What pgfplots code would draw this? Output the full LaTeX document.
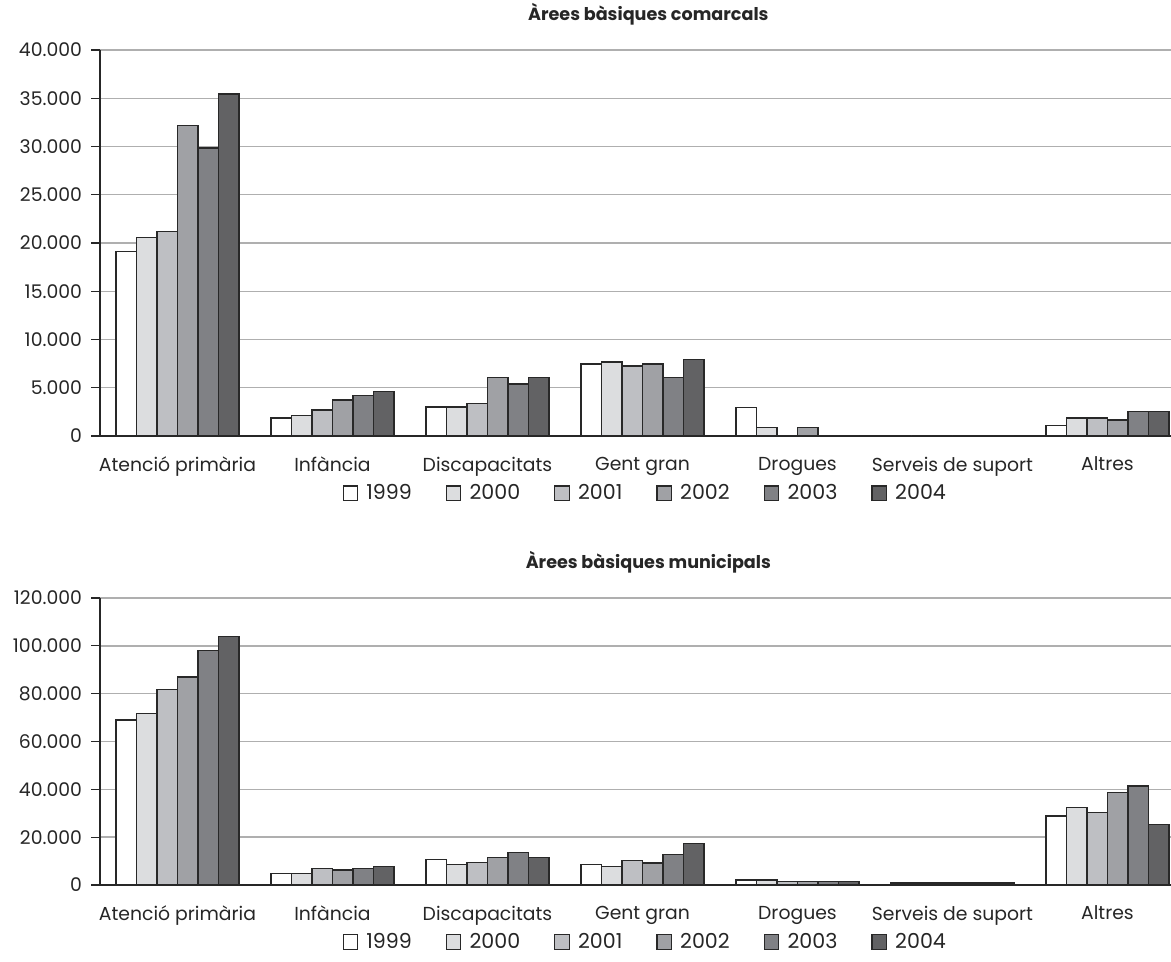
\documentclass[border=0pt]{standalone}
\usepackage{pgfplots}
\pgfplotsset{compat=1.18}
\usepackage{fontspec}
\setmainfont{Poppins}
\definecolor{c1999}{RGB}{255,255,255}
\definecolor{c2000}{RGB}{220,221,223}
\definecolor{c2001}{RGB}{190,191,195}
\definecolor{c2002}{RGB}{160,161,165}
\definecolor{c2003}{RGB}{128,129,133}
\definecolor{c2004}{RGB}{98,98,100}
\definecolor{gridc}{RGB}{175,175,175}
\definecolor{edgec}{RGB}{40,40,40}
\pgfplotsset{
  mybars/.style={
    scale only axis,
    width=535.5pt,
    xmin=-0.5, xmax=6.41,
    ybar=0pt,
    bar width=10.25pt,
    axis lines*=left,
    axis line style={draw=black!85, line width=0.6pt},
    ymajorgrids,
    major grid style={draw=gridc, line width=0.7pt},
    xtick={0,1,2,3,4,5,6},
    xticklabels={Atenció primària,Infància,Discapacitats,Gent gran,Drogues,Serveis de suport,Altres},
    minor xtick={0.5,1.5,2.5,3.5,4.5,5.5},
    xtick style={draw=none},
    minor tick length=3pt,
    xminorgrids=false,
    every minor tick/.append style={draw=black!85, line width=0.6pt},
    tick align=outside,
    major tick length=4.5pt,
    ytick style={draw=black!85, line width=0.6pt},
    tick label style={font=\fontsize{9.4}{11}\selectfont, text=black!85},
    xticklabel style={yshift=-2.5pt},
    yticklabel style={xshift=-1pt},
    scaled y ticks=false,
    yticklabel style={/pgf/number format/.cd, fixed, precision=0, 1000 sep={.}, assume math mode=true},
    title style={font=\fontsize{8.8}{11}\selectfont\bfseries, text=black!85, at={(0.512,1)}, anchor=base, yshift=8.5pt},
    legend columns=6,
    legend style={draw=none, fill=none, font=\fontsize{10.3}{12}\selectfont, text=black!85,
      /tikz/every even column/.append style={column sep=15pt}},
    legend image code/.code={\draw[#1, line width=0.6pt] (0pt,-3.6pt) rectangle (7.2pt,3.6pt); \path[draw=none,fill=none] (9.5pt,-0.5pt) rectangle (9.6pt,0.5pt);},
    every axis plot/.append style={draw=edgec, line width=0.7pt},
    clip=true,
  }
}
\begin{document}
\begin{tikzpicture}
\begin{axis}[mybars,
  at={(0,224.5pt)}, anchor=south west,
  height=193pt,
  ymin=0, ymax=40000,
  ytick={0,5000,...,40000},
  title={Àrees bàsiques comarcals},
  legend style={at={(0.51,-0.148)}, anchor=center},
]
\addplot[fill=c1999] coordinates {(0,19100) (1,1850) (2,3000) (3,7450) (4,2950) (5,0) (6,1100)};
\addplot[fill=c2000] coordinates {(0,20550) (1,2100) (2,3000) (3,7650) (4,870) (5,0) (6,1850)};
\addplot[fill=c2001] coordinates {(0,21200) (1,2700) (2,3350) (3,7250) (4,0) (5,0) (6,1850)};
\addplot[fill=c2002] coordinates {(0,32200) (1,3750) (2,6050) (3,7450) (4,870) (5,0) (6,1650)};
\addplot[fill=c2003] coordinates {(0,29850) (1,4200) (2,5400) (3,6050) (4,0) (5,0) (6,2550)};
\addplot[fill=c2004] coordinates {(0,35450) (1,4600) (2,6050) (3,7900) (4,0) (5,0) (6,2550)};
\legend{1999,2000,2001,2002,2003,2004}
\end{axis}
\begin{axis}[mybars,
  at={(0,0)}, anchor=south west,
  height=143.5pt,
  ymin=0, ymax=120000,
  ytick={0,20000,...,120000},
  title={Àrees bàsiques municipals},
  legend style={at={(0.51,-0.1986)}, anchor=center},
]
\addplot[fill=c1999] coordinates {(0,69000) (1,4850) (2,10700) (3,8450) (4,2150) (5,800) (6,28800)};
\addplot[fill=c2000] coordinates {(0,71800) (1,4850) (2,8450) (3,7700) (4,2150) (5,800) (6,32400)};
\addplot[fill=c2001] coordinates {(0,81800) (1,6950) (2,9300) (3,10150) (4,1450) (5,800) (6,30200)};
\addplot[fill=c2002] coordinates {(0,86900) (1,6300) (2,11400) (3,9150) (4,1500) (5,800) (6,38800)};
\addplot[fill=c2003] coordinates {(0,98000) (1,6950) (2,13700) (3,12850) (4,1500) (5,800) (6,41400)};
\addplot[fill=c2004] coordinates {(0,103900) (1,7650) (2,11400) (3,17400) (4,1500) (5,800) (6,25200)};
\legend{1999,2000,2001,2002,2003,2004}
\end{axis}
\pgfresetboundingbox
\path (-50pt,-38.5pt) rectangle (535.5pt,442.5pt);
\end{tikzpicture}
\end{document}
